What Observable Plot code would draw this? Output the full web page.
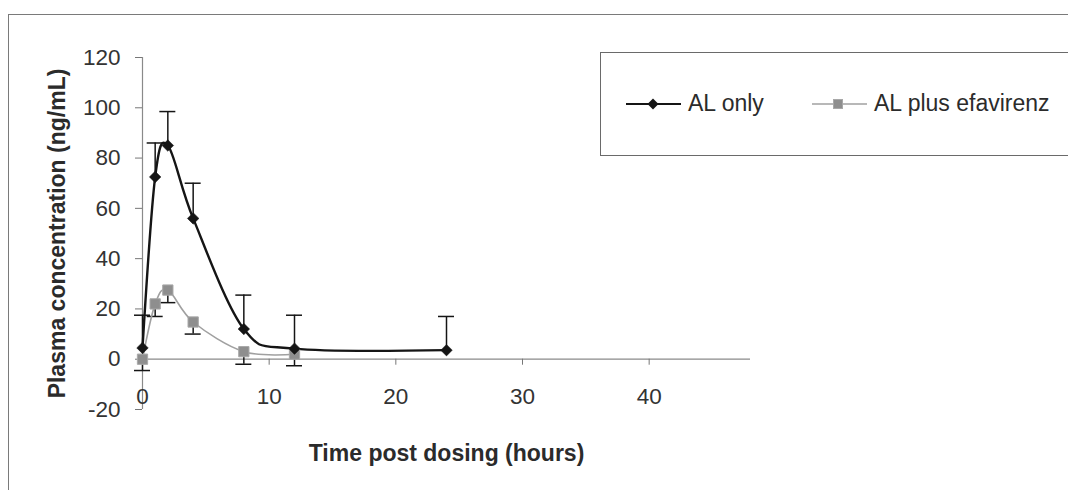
<!DOCTYPE html>
<html>
<head>
<meta charset="utf-8">
<script src="https://cdn.jsdelivr.net/npm/d3@7"></script>
<script src="https://cdn.jsdelivr.net/npm/@observablehq/plot@0.6"></script>
<style>
  html, body { margin: 0; padding: 0; background: #fff; overflow: hidden; }
  #wrap { position: relative; width: 1068px; height: 490px; overflow: hidden; background: #fff;
          font-family: "Liberation Sans", Arial, sans-serif; color: #2b2b2b; }
  #frame { position: absolute; left: 8px; top: 14px; width: 1200px; height: 600px; border: 1px solid #7a7a7a; box-sizing: border-box; }
  #legend { position: absolute; left: 600px; top: 52px; width: 520px; height: 104px; border: 1px solid #6a6a6a; box-sizing: border-box; background: #fff; }
  .sw { position: absolute; top: 41px; }
  .lt { position: absolute; top: 37px; font-size: 23px; line-height: 26px; white-space: nowrap; }
  #chart { position: absolute; left: 0; top: 0; }
</style>
</head>
<body>
<div id="wrap">
  <div id="frame"></div>
  <div id="chart"></div>
  <div id="legend"></div>
</div>
<script>
// ---- data ----
const seriesNames = ["AL only", "AL plus efavirenz"];
const timesAL = [0, 1, 2, 4, 8, 12, 24];
const concAL = [4.5, 72.5, 85, 56, 12, 4.2, 3.6];
const upperAL = [17.5, 86, 98.5, 70, 25.5, 17.5, 17];
const timesEFV = [0, 1, 2, 4, 8, 12];
const concEFV = [0, 22, 27.5, 14.8, 3, 2];
const lowerEFV = [-4.5, 17, 22.5, 10, -2, -2.6];
const xTicks = [0, 10, 20, 30, 40];
const yTicks = [-20, 0, 20, 40, 60, 80, 100, 120];
const xTitle = "Time post dosing (hours)";
const yTitle = "Plasma concentration (ng/mL)";

const al = timesAL.map((t, i) => ({t, v: concAL[i], e: upperAL[i]}));
const efv = timesEFV.map((t, i) => ({t, v: concEFV[i], e: lowerEFV[i]}));

const black = "#151515";
const grayLine = "#a0a0a0";
const graySq = "#8e8e8e";

const chart = Plot.plot({
  width: 1068,
  height: 490,
  marginLeft: 142,
  marginRight: 318,
  marginTop: 57,
  marginBottom: 81,
  style: {fontFamily: "'Liberation Sans', Arial, sans-serif", fontSize: "22.5px", color: "#2b2b2b", background: "transparent"},
  x: {domain: [0, 48], axis: null},
  y: {domain: [-20, 120], axis: null},
  marks: [
    // axes lines
    Plot.ruleX([0], {stroke: "#8a8a8a", strokeWidth: 1.2}),
    Plot.ruleY([0], {stroke: "#8a8a8a", strokeWidth: 1.2}),
    Plot.axisY(yTicks, {tickSize: 7, tickPadding: 15, label: null, stroke: "#777", fill: "#333", tickFormat: d => String(d)}),
    Plot.ruleX(xTicks, {x: d => d, y1: 0, y2: 0, insetBottom: -6, stroke: "#777"}),
    Plot.text(xTicks, {x: d => d, y: 0, dy: 38, text: d => String(d), lineAnchor: "middle", fill: "#333"}),
    // titles
    Plot.text([yTitle], {frameAnchor: "left", dx: -78, rotate: -90, textAnchor: "middle", lineAnchor: "bottom", fontWeight: "bold", fontSize: 23, fill: "#2b2b2b"}),
    Plot.text([xTitle], {frameAnchor: "bottom", dy: 35, textAnchor: "middle", lineAnchor: "top", fontWeight: "bold", fontSize: 23, fill: "#2b2b2b"}),
    // error bars
    Plot.ruleX(efv, {x: "t", y1: "v", y2: "e", stroke: black, strokeWidth: 1.5}),
    Plot.ruleY(efv, {y: "e", x1: "t", x2: "t", insetLeft: -8, insetRight: -8, stroke: black, strokeWidth: 1.5}),
    Plot.ruleX(al, {x: "t", y1: "v", y2: "e", stroke: black, strokeWidth: 1.5}),
    Plot.ruleY(al, {y: "e", x1: "t", x2: "t", insetLeft: -8, insetRight: -8, stroke: black, strokeWidth: 1.5}),
    // lines
    Plot.line(efv, {x: "t", y: "v", curve: "cardinal", tension: 0, stroke: grayLine, strokeWidth: 1.6}),
    Plot.line(al, {x: "t", y: "v", curve: "cardinal", tension: 0, stroke: black, strokeWidth: 2.4}),
    // markers
    Plot.dot(efv, {x: "t", y: "v", symbol: "square", r: 5.8, fill: graySq, stroke: "#a8a8a8", strokeWidth: 1}),
    Plot.dot(al, {x: "t", y: "v", symbol: "diamond2", r: 5.2, fill: black, stroke: black, strokeWidth: 0.5})
  ]
});
document.getElementById("chart").appendChild(chart);

// legend (HTML overlay)
const lg = document.getElementById("legend");
lg.innerHTML = `
  <svg class="sw" style="left:25px" width="56" height="20">
    <line x1="0" y1="10" x2="55" y2="10" stroke="${black}" stroke-width="2"/>
    <path d="M27,4.5 L32.5,10 L27,15.5 L21.5,10 Z" fill="${black}"/>
  </svg>
  <div class="lt" style="left:87px">${seriesNames[0]}</div>
  <svg class="sw" style="left:211px" width="56" height="20">
    <line x1="0" y1="10" x2="55" y2="10" stroke="${grayLine}" stroke-width="1.3"/>
    <rect x="21.5" y="5.5" width="9" height="9" fill="${graySq}" stroke="#a8a8a8" stroke-width="1"/>
  </svg>
  <div class="lt" style="left:273px">${seriesNames[1]}</div>
`;
</script>
</body>
</html>
